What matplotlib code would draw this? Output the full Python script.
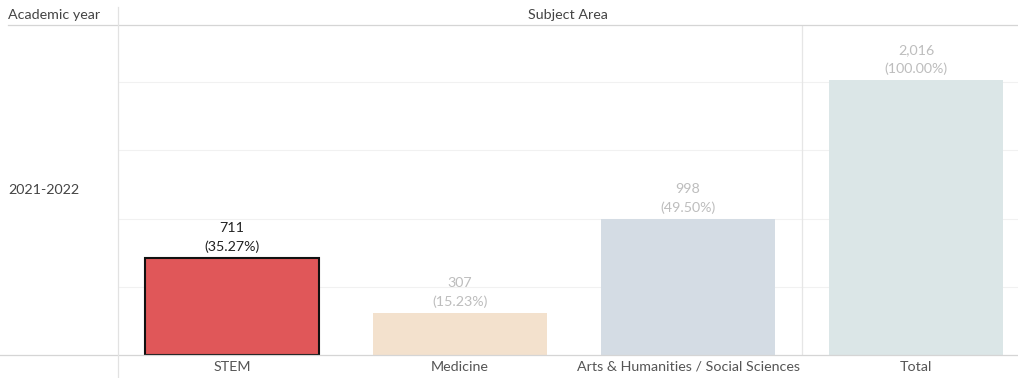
import matplotlib.pyplot as plt
from matplotlib.lines import Line2D

# Enrolment by subject area, academic year 2021-2022
categories = ["STEM", "Medicine", "Arts & Humanities / Social Sciences", "Total"]
counts = [711, 307, 998, 2016]
shares = [35.27, 15.23, 49.50, 100.00]
year_label = "2021-2022"

bar_colors = ["#E05759", "#F3E1CD", "#D4DCE4", "#DBE6E7"]
label_colors = ["#222222", "#BDBDBD", "#BDBDBD", "#BDBDBD"]

plt.rcParams['font.family'] = ['Lato', 'DejaVu Sans']
fs = 10.3

W, H = 1018, 378
fig = plt.figure(figsize=(W / 100, H / 100), dpi=100)

# plot area: left edge at the row-header divider, baseline near the bottom
left, bottom, top = 118, 23, 353
ax = fig.add_axes([left / W, bottom / H, (W - left) / W, (top - bottom) / H])
ax.set_xlim(-0.5, 3.447)
ax.set_ylim(0, 2420)

for y in [500, 1000, 1500, 2000]:
    ax.axhline(y, color="#F1F1F1", lw=0.8, zorder=0)

x = list(range(len(categories)))
bars = ax.bar(x, counts, width=0.76, color=bar_colors, zorder=2)
bars[0].set_edgecolor("#111111")
bars[0].set_linewidth(1.5)

for xi, c, s, col in zip(x, counts, shares, label_colors):
    ax.annotate(f"{c:,}\n({s:.2f}%)", (xi, c), xytext=(0, 3.5), textcoords="offset points",
                ha="center", va="bottom", fontsize=fs, color=col, linespacing=1.65)

# separator before the grand total column
ax.axvline(2.5, color="#E6E6E6", lw=0.9, zorder=1)

ax.set_xticks(x)
ax.set_xticklabels(categories, fontsize=fs, color="#555555")
ax.tick_params(axis="x", length=0, pad=4)
ax.set_yticks([])
for sp in ax.spines.values():
    sp.set_visible(False)

# header line, baseline line and row-header divider
fig.add_artist(Line2D([8 / W, 1], [1 - 25 / H, 1 - 25 / H], color="#D5D5D5", lw=0.9))
fig.add_artist(Line2D([0, 1], [bottom / H, bottom / H], color="#D5D5D5", lw=0.9))
fig.add_artist(Line2D([left / W, left / W], [0, 1 - 7 / H], color="#E2E2E2", lw=0.9))

fig.text(8 / W, 1 - 15 / H, "Academic year", fontsize=fs, color="#444444", va="center")
fig.text((left + (W - left) / 2) / W, 1 - 15 / H, "Subject Area", fontsize=fs,
         color="#444444", ha="center", va="center")
fig.text(8 / W, 1 - 190 / H, year_label, fontsize=fs, color="#444444", va="center")

fig.savefig("out.png", dpi=100)
